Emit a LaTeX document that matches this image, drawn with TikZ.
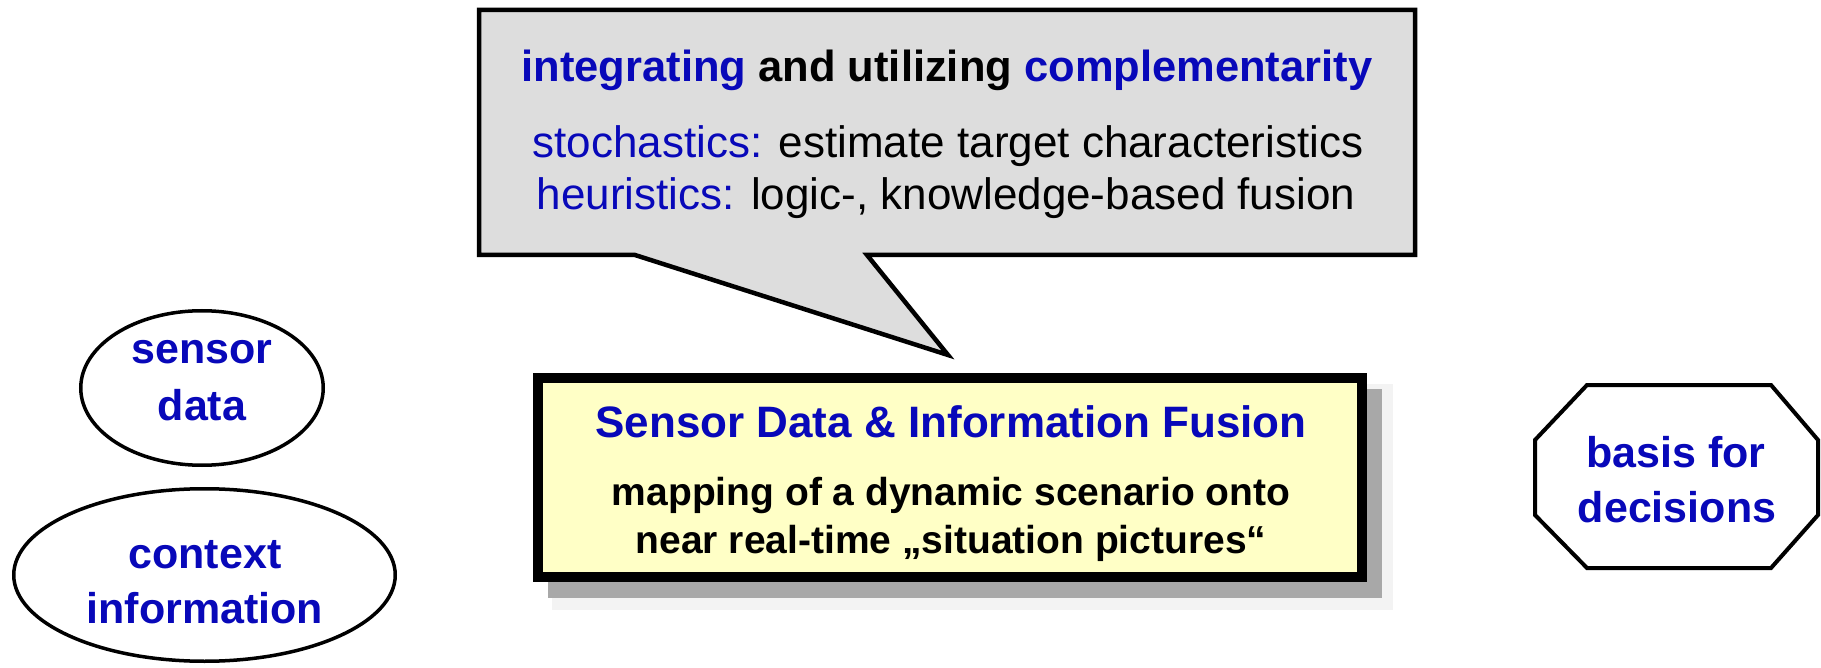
\documentclass[tikz,border=0pt]{standalone}
\usepackage{fontspec}
\setmainfont{Liberation Sans}
\usetikzlibrary{shapes.geometric}

\definecolor{inkblue}{RGB}{8,8,185}
\definecolor{calloutgray}{RGB}{221,221,221}
\definecolor{paleyellow}{RGB}{255,255,198}
\definecolor{shadowgray}{RGB}{168,168,168}
\definecolor{haze}{RGB}{243,243,243}

\newcommand{\fs}[1]{\fontsize{#1pt}{#1pt}\selectfont}

\tikzset{
  txt/.style={anchor=base, inner sep=0pt, outer sep=0pt},
  bluebold/.style={txt, text=inkblue, font=\fs{43.5}\bfseries},
  plainline/.style={txt, text=black, font=\fs{44}},
  fusiontitle/.style={txt, text=inkblue, font=\fs{44}\bfseries},
  fusionline/.style={txt, text=black, font=\fs{39}\bfseries},
  sourcebox/.style={ellipse, draw=black, line width=3.5pt, fill=white, inner sep=0pt},
  fusionbox/.style={rectangle, draw=black, line width=10pt, fill=paleyellow, inner sep=0pt},
}

\begin{document}
\begin{tikzpicture}[x=1pt,y=-1pt]
  % canvas
  \fill[white] (0,0) rectangle (1821,668);
  \useasboundingbox (0,0) rectangle (1821,668);

  % speech bubble with the fusion principles
  \coordinate (bnw) at (479,10);
  \coordinate (bne) at (1415,10);
  \coordinate (bse) at (1415,255);
  \coordinate (tailr) at (867,255);
  \coordinate (tip) at (948,355);
  \coordinate (taill) at (635,255);
  \coordinate (bsw) at (479,255);
  \draw[line width=4.5pt, fill=calloutgray, line join=miter]
    (bnw) -- (bne) -- (bse) -- (tailr) -- (tip) -- (taill) -- (bsw) -- cycle;

  \node[bluebold] (ctitle) at (947,82)
    {integrating \textcolor{black}{and utilizing} complementarity};
  \node[plainline] (cstoch) at (948,158)
    {\textcolor{inkblue}{stochastics:} estimate target characteristics};
  \node[plainline] (cheur) at (946,210)
    {\textcolor{inkblue}{heuristics:} logic-, knowledge-based fusion};

  % central fusion box with its drop shadow
  \coordinate (fusionsw) at (538,577);
  \coordinate (fusionne) at (1362,378);
  \fill[haze] ([shift={(14,33)}]fusionsw) rectangle ([shift={(31,6)}]fusionne);
  \fill[shadowgray] ([shift={(10,21)}]fusionsw) rectangle ([shift={(20,11)}]fusionne);
  \node[fusionbox, minimum width=824pt, minimum height=199pt] (fusion) at (950,477.5) {};

  \node[fusiontitle] (ftitle) at (951,437) {Sensor Data \& Information Fusion};
  \node[fusionline] (fline1) at (951,505) {mapping of a dynamic scenario onto};
  \node[fusionline] (fline2) at (951,553) {near real-time „situation pictures“};

  % inputs on the left
  \node[sourcebox, minimum width=242.5pt, minimum height=154.5pt] (sensor) at (202,388) {};
  \node[bluebold, font=\fs{43}\bfseries] (sensor1) at (202,363) {sensor};
  \node[bluebold, font=\fs{43}\bfseries] (sensor2) at (202,420) {data};

  \node[sourcebox, minimum width=381.5pt, minimum height=172.5pt] (context) at (204.5,575) {};
  \node[bluebold, font=\fs{43}\bfseries] (context1) at (205,568) {context};
  \node[bluebold, font=\fs{43}\bfseries] (context2) at (205,623) {information};

  % output on the right: octagon
  \coordinate (o1) at (1587,385);
  \coordinate (o2) at (1771,385);
  \coordinate (o3) at (1818,440);
  \coordinate (o4) at (1818,515);
  \coordinate (o5) at (1771,568);
  \coordinate (o6) at (1587,568);
  \coordinate (o7) at (1535,515);
  \coordinate (o8) at (1535,440);
  \draw[line width=4pt, fill=white, line join=miter]
    (o1) -- (o2) -- (o3) -- (o4) -- (o5) -- (o6) -- (o7) -- (o8) -- cycle;
  \node[bluebold, font=\fs{43}\bfseries] (basis1) at (1676,467) {basis for};
  \node[bluebold, font=\fs{43}\bfseries] (basis2) at (1677,522) {decisions};
\end{tikzpicture}
\end{document}
